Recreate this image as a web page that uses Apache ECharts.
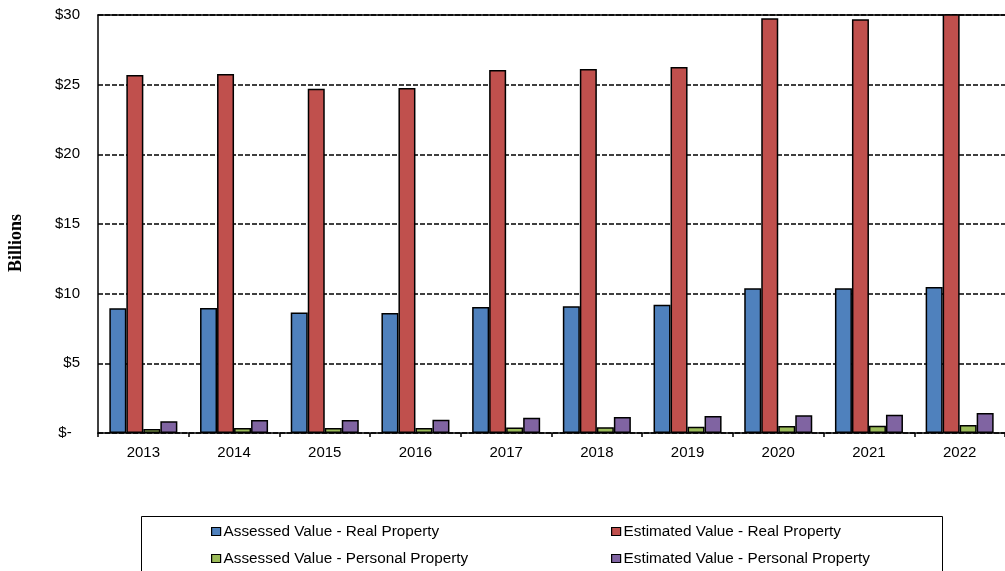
<!DOCTYPE html>
<html>
<head>
<meta charset="utf-8">
<script src="https://cdn.jsdelivr.net/npm/echarts@6/dist/echarts.min.js"></script>
<style>
  html, body { margin: 0; padding: 0; background: #fff; }
  #chart { width: 1005px; height: 571px; }
</style>
</head>
<body>
<div id="chart"></div>
<script>
// Fiscal years on the category axis
const years = ['2013', '2014', '2015', '2016', '2017', '2018', '2019', '2020', '2021', '2022'];

// Values in billions of dollars
const assessedReal = [8.95, 8.97, 8.64, 8.62, 9.05, 9.10, 9.20, 10.39, 10.39, 10.48];
const estimatedReal = [25.70, 25.77, 24.70, 24.76, 26.06, 26.12, 26.27, 29.77, 29.70, 30.40];
const assessedPersonal = [0.29, 0.36, 0.36, 0.35, 0.40, 0.42, 0.45, 0.50, 0.52, 0.57];
const estimatedPersonal = [0.84, 0.93, 0.93, 0.95, 1.10, 1.15, 1.22, 1.27, 1.31, 1.43];

const seriesNames = [
  'Assessed Value - Real Property',
  'Estimated Value - Real Property',
  'Assessed Value - Personal Property',
  'Estimated Value - Personal Property'
];
const seriesColors = ['#4F81BD', '#C0504D', '#9BBB59', '#8064A2'];
const seriesData = [assessedReal, estimatedReal, assessedPersonal, estimatedPersonal];

const labelFont = 'Liberation Sans, Arial, sans-serif';

// One legend block per entry so the two columns line up like a table
function legendAt(name, left, top) {
  return {
    data: [name],
    left: left,
    top: top,
    orient: 'horizontal',
    icon: 'rect',
    itemWidth: 9,
    itemHeight: 8,
    padding: 0,
    selectedMode: false,
    itemStyle: { borderColor: '#000', borderWidth: 1.2 },
    textStyle: {
      fontFamily: labelFont, fontSize: 15.3, lineHeight: 16, color: '#000',
      padding: [0, 0, 0, -2]
    }
  };
}

const chart = echarts.init(document.getElementById('chart'), null, { renderer: 'canvas' });

chart.setOption({
  animation: false,
  backgroundColor: '#fff',
  grid: {
    left: 98, top: 15, right: 0, bottom: 138,
    containLabel: false,
    outerBoundsMode: 'none'
  },
  xAxis: [
    {
      type: 'category',
      data: years,
      position: 'bottom',
      axisLine: { lineStyle: { color: '#000', width: 1.5 } },
      axisTick: { show: true, length: 4, lineStyle: { color: '#000', width: 1.5 } },
      axisLabel: { color: '#000', fontFamily: labelFont, fontSize: 15, margin: 12 }
    },
    {
      type: 'category',
      data: years,
      position: 'top',
      axisLine: { lineStyle: { color: '#000', width: 1.5 } },
      axisTick: { show: false },
      axisLabel: { show: false }
    }
  ],
  yAxis: {
    type: 'value',
    min: 0,
    max: 30,
    interval: 5,
    axisLine: { show: true, lineStyle: { color: '#000', width: 1.5 } },
    axisTick: { show: false },
    axisLabel: {
      color: '#000',
      fontFamily: labelFont,
      fontSize: 15,
      margin: 18,
      formatter: function (v) { return v === 0 ? '$-  ' : '$' + v; }
    },
    splitLine: { show: true, lineStyle: { color: '#000', width: 1.5, type: [5, 2] } }
  },
  legend: [
    legendAt(seriesNames[0], 211, 523.5),
    legendAt(seriesNames[1], 611, 523.5),
    legendAt(seriesNames[2], 211, 550.5),
    legendAt(seriesNames[3], 611, 550.5)
  ],
  graphic: [
    {
      type: 'rect',
      shape: { x: 141.5, y: 516.5, width: 801, height: 70 },
      style: { fill: 'none', stroke: '#000', lineWidth: 1 },
      z: -1
    },
    {
      type: 'text',
      x: 16,
      y: 243,
      rotation: Math.PI / 2,
      style: {
        text: 'Billions',
        fontFamily: 'Liberation Serif, Times New Roman, serif',
        fontWeight: 'bold',
        fontSize: 18,
        fill: '#000',
        align: 'center',
        verticalAlign: 'middle'
      }
    }
  ],
  series: seriesNames.map(function (name, i) {
    return {
      name: name,
      type: 'bar',
      data: seriesData[i],
      barGap: '0%',
      barCategoryGap: '25%',
      itemStyle: { color: seriesColors[i], borderColor: '#000', borderWidth: 1.5 }
    };
  })
});
</script>
</body>
</html>
